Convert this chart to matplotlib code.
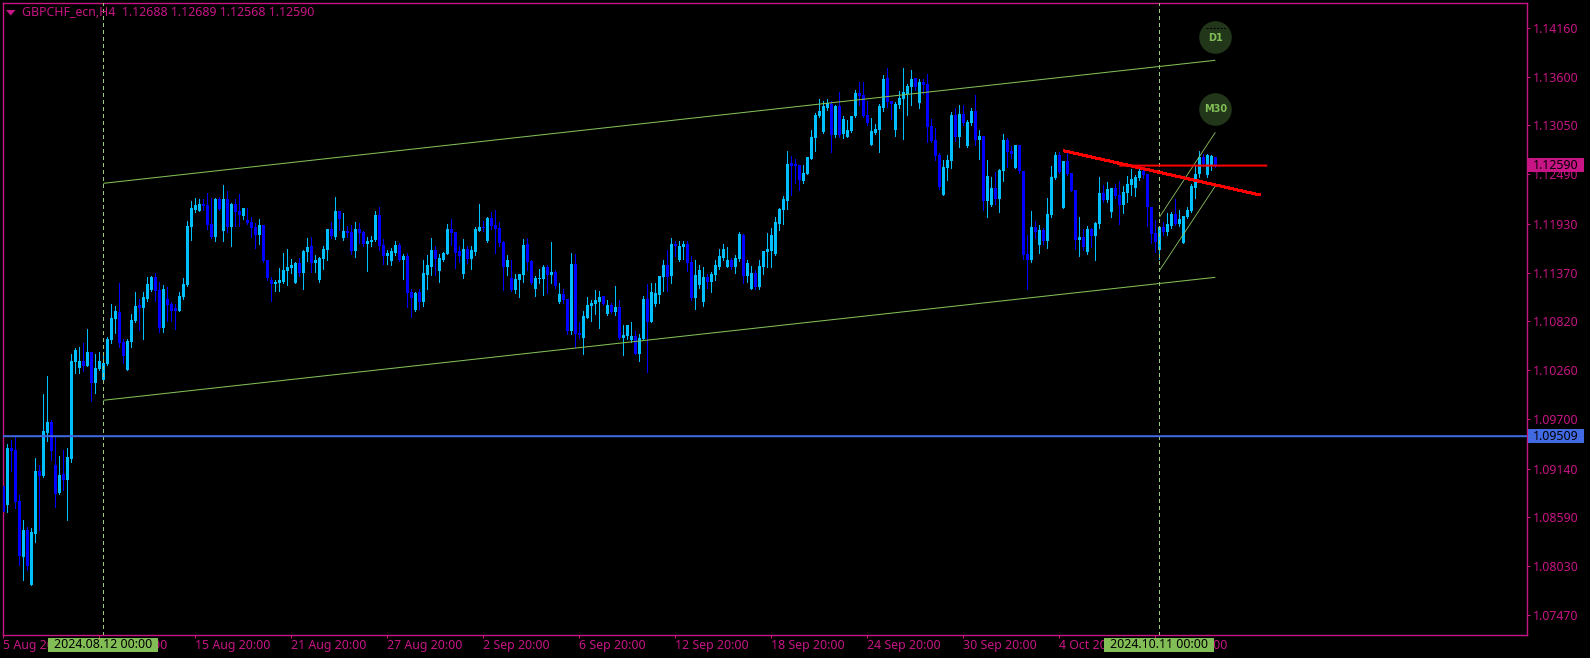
import numpy as np
import matplotlib
matplotlib.use("Agg")
import matplotlib.pyplot as plt
from matplotlib.patches import Rectangle, Polygon

# Prices are in units of 0.0001
body_top = [
10894,10937,10937,10935,10877,10844,10844,10841,10911,10911,
10956,10967,10967,10918,10906,10908,10927,11036,11049,11036,
11036,11047,11047,11028,11036,11034,11061,11085,11093,11092,
11058,11059,11083,11099,11100,11109,11124,11132,11132,11117,
11118,11107,11101,11096,11110,11124,11190,11210,11214,11215,
11215,11214,11192,11221,11221,11221,11221,11215,11215,11207,
11210,11197,11195,11189,11191,11191,11151,11129,11126,11129,
11140,11143,11145,11148,11148,11162,11166,11167,11151,11154,
11164,11186,11186,11207,11207,11184,11184,11183,11187,11187,
11183,11173,11174,11203,11203,11168,11159,11162,11168,11168,
11156,11156,11115,11114,11115,11136,11145,11163,11163,11153,
11159,11187,11187,11183,11161,11164,11164,11163,11187,11189,
11189,11199,11199,11191,11188,11172,11151,11131,11130,11135,
11168,11169,11150,11131,11131,11143,11143,11137,11137,11112,
11112,11107,11147,11147,11068,11087,11100,11102,11106,11109,
11110,11100,11100,11098,11098,11066,11077,11065,11065,11062,
11107,11107,11115,11114,11133,11145,11145,11169,11169,11167,
11169,11169,11149,11134,11140,11132,11132,11135,11145,11156,
11164,11151,11151,11154,11181,11180,11148,11136,11136,11144,
11162,11164,11180,11194,11209,11221,11260,11262,11260,11259,
11250,11268,11291,11316,11321,11327,11330,11329,11327,11327,
11312,11299,11315,11341,11341,11339,11316,11298,11300,11327,
11357,11358,11332,11329,11336,11343,11349,11357,11358,11354,
11354,11352,11304,11288,11271,11257,11265,11316,11316,11317,
11317,11308,11321,11321,11292,11292,11247,11233,11233,11254,
11288,11288,11275,11282,11282,11253,11158,11189,11189,11185,
11185,11204,11246,11271,11271,11264,11264,11250,11231,11177,
11177,11187,11187,11193,11228,11228,11232,11233,11233,11225,
11229,11238,11244,11246,11252,11252,11249,11212,11182,11189,
11189,11192,11204,11204,11198,11201,11208,11236,11249,11268,
11268,11271,11270,11269]
body_bottom = [
10865,10873,10934,10876,10814,10813,10803,10782,10840,10906,
10906,10954,10934,10885,10886,10901,10901,10925,11035,11028,
11031,11031,11012,11012,11027,11015,11033,11060,11084,11057,
11042,11026,11058,11082,11097,11097,11107,11117,11116,11074,
11074,11100,11094,11094,11094,11109,11123,11189,11208,11207,
11213,11191,11178,11178,11210,11184,11189,11189,11206,11203,
11202,11194,11188,11180,11180,11150,11131,11124,11124,11125,
11127,11139,11142,11125,11137,11137,11161,11148,11148,11129,
11153,11163,11179,11178,11198,11176,11182,11162,11162,11182,
11170,11170,11172,11174,11167,11156,11156,11150,11160,11152,
11152,11114,11108,11095,11104,11104,11135,11144,11153,11139,
11152,11158,11182,11160,11156,11136,11153,11153,11161,11185,
11188,11173,11190,11187,11171,11144,11144,11117,11117,11129,
11134,11149,11125,11119,11130,11130,11134,11134,11122,11104,
11106,11071,11071,11067,11066,11063,11086,11099,11101,11104,
11101,11090,11092,11092,11063,11063,11065,11060,11045,11045,
11061,11081,11081,11101,11112,11132,11132,11133,11168,11151,
11166,11148,11108,11108,11123,11104,11127,11127,11134,11144,
11154,11143,11144,11144,11153,11133,11133,11119,11121,11121,
11143,11161,11162,11158,11193,11209,11219,11259,11259,11243,
11242,11249,11267,11290,11315,11297,11325,11294,11294,11294,
11295,11292,11298,11315,11338,11315,11308,11282,11296,11299,
11325,11331,11329,11300,11328,11335,11341,11348,11349,11330,
11351,11303,11287,11270,11235,11226,11256,11264,11291,11291,
11307,11281,11307,11288,11288,11219,11219,11214,11221,11221,
11253,11274,11272,11256,11253,11157,11152,11152,11183,11169,
11173,11173,11203,11245,11252,11211,11249,11230,11174,11174,
11166,11161,11179,11179,11192,11220,11220,11206,11224,11214,
11214,11228,11237,11234,11245,11248,11212,11181,11172,11163,
11183,11183,11190,11193,11193,11171,11200,11207,11234,11249,
11261,11248,11258,11259]
highs = [
10905,10942,10947,10950,10884,10856,10848,10846,10926,10918,
10999,11020,10969,10950,10928,10935,10938,11044,11051,11052,
11057,11073,11047,11044,11047,11044,11064,11101,11099,11125,
11062,11062,11090,11115,11107,11115,11132,11133,11137,11127,
11123,11121,11104,11101,11115,11131,11196,11219,11222,11221,
11221,11228,11222,11222,11223,11237,11230,11216,11221,11227,
11210,11211,11200,11194,11198,11191,11151,11132,11129,11142,
11159,11164,11153,11149,11154,11163,11176,11178,11157,11155,
11168,11187,11195,11223,11207,11205,11190,11191,11195,11194,
11184,11178,11179,11207,11212,11175,11163,11165,11173,11171,
11158,11159,11119,11115,11119,11152,11157,11176,11168,11158,
11161,11193,11198,11183,11168,11175,11168,11167,11189,11215,
11196,11200,11206,11209,11195,11173,11157,11151,11136,11136,
11175,11177,11151,11133,11141,11146,11146,11172,11140,11125,
11118,11107,11159,11158,11081,11093,11109,11106,11117,11116,
11111,11106,11103,11122,11106,11077,11078,11081,11071,11067,
11111,11124,11125,11125,11133,11152,11163,11176,11173,11173,
11173,11173,11156,11151,11146,11144,11136,11138,11152,11164,
11170,11166,11154,11157,11183,11181,11152,11145,11140,11151,
11162,11182,11188,11201,11211,11224,11276,11270,11266,11260,
11260,11268,11299,11319,11335,11332,11335,11333,11328,11343,
11315,11311,11315,11345,11354,11354,11333,11313,11306,11329,
11362,11370,11332,11331,11344,11370,11352,11368,11358,11358,
11358,11363,11312,11302,11273,11265,11271,11320,11325,11328,
11328,11311,11325,11339,11300,11292,11265,11246,11252,11255,
11295,11290,11281,11282,11282,11253,11180,11207,11196,11191,
11188,11222,11258,11275,11275,11264,11274,11250,11231,11201,
11187,11190,11188,11195,11246,11237,11240,11234,11238,11241,
11236,11247,11255,11248,11258,11257,11249,11212,11197,11189,
11195,11205,11206,11221,11208,11201,11212,11238,11259,11276,
11272,11272,11271,11269]
lows = [
10845,10865,10911,10869,10804,10787,10798,10782,10831,10844,
10905,10945,10924,10870,10885,10890,10855,10921,11023,11023,
11025,11031,10991,11000,11026,11015,11032,11057,11068,11052,
11034,11026,11053,11081,11072,11061,11105,11116,11105,11069,
11070,11082,11082,11073,11093,11107,11122,11174,11206,11207,
11208,11187,11176,11173,11208,11173,11183,11167,11190,11190,
11198,11192,11178,11165,11170,11149,11129,11105,11116,11116,
11125,11123,11137,11125,11133,11118,11150,11138,11138,11127,
11141,11151,11176,11175,11186,11174,11178,11158,11155,11171,
11167,11139,11168,11173,11163,11147,11147,11146,11157,11150,
11130,11098,11087,11093,11096,11099,11119,11134,11135,11126,
11150,11158,11169,11142,11149,11131,11148,11141,11157,11184,
11184,11172,11187,11160,11168,11117,11134,11116,11114,11109,
11127,11140,11124,11110,11125,11112,11114,11125,11120,11102,
11102,11067,11067,11053,11063,11044,11085,11082,11090,11074,
11100,11089,11091,11089,11062,11043,11062,11058,11044,11037,
11060,11024,11081,11099,11102,11116,11116,11125,11156,11150,
11153,11139,11106,11096,11120,11099,11120,11115,11129,11141,
11152,11143,11141,11137,11150,11125,11127,11118,11118,11119,
11136,11143,11143,11157,11186,11193,11210,11225,11239,11231,
11239,11249,11267,11276,11314,11296,11322,11274,11291,11291,
11290,11292,11297,11314,11328,11314,11305,11282,11295,11275,
11321,11326,11312,11293,11325,11289,11317,11328,11345,11325,
11340,11286,11286,11265,11232,11226,11243,11256,11287,11280,
11305,11280,11305,11282,11266,11208,11200,11213,11215,11206,
11242,11257,11268,11256,11250,11153,11119,11149,11177,11159,
11170,11165,11200,11244,11250,11211,11248,11230,11164,11156,
11163,11158,11166,11151,11188,11218,11218,11200,11222,11193,
11205,11218,11226,11224,11243,11245,11190,11171,11161,11153,
11180,11180,11188,11191,11190,11171,11199,11206,11222,11246,
11258,11246,11254,11257]
# U = bullish candle, D = bearish candle
direction = (
"DUDDDUDUUD" "UUDDUDUUUU" "DUDUUUUUUD" "DUUUDUUUDD" "UDDDUUUUUU"
"DDDUDUDUDD" "UDDDUDDDUU" "UUUUDUUDUU" "UUDUDUDDUD" "DUUUDDUUUD"
"UDDUDUUUDU" "UUDDDUDUUU" "DUDDDDUDUU" "UDDUUUDUDU" "DDUDDUUUUU"
"DUDUDUUUDU" "UDUUUUDUDU" "UDDUUUDUUU" "UUDUUDUUDU" "UUUUUUUDDD"
"UUUUUUUDUD" "UUUUDDDUUU" "UDDUUUUUDU" "DDDDDUUUDU" "DUUDUDUUDU"
"UDDUDDDUDU" "DUUUDUDDDU" "DUDUUDUUDD" "UUUUUDDDDU" "DUUDUUUUUU"
"DUUD")

hline_price = 1.09509
last_price = 1.12590
price_ticks = [1.14160, 1.13600, 1.13050, 1.12490, 1.11930, 1.11370, 1.10820,
               1.10260, 1.09700, 1.09140, 1.08590, 1.08030, 1.07470]
time_ticks = [0, 24, 48, 72, 96, 120, 144, 168, 192, 216, 240, 264, 288]
time_labels = ["5 Aug 20:00", "9 Aug 20:00", "15 Aug 20:00", "21 Aug 20:00",
               "27 Aug 20:00", "2 Sep 20:00", "6 Sep 20:00", "12 Sep 20:00",
               "18 Sep 20:00", "24 Sep 20:00", "30 Sep 20:00", "4 Oct 20:00",
               "10 Oct 20:00"]
marker_bars = [25, 289]
marker_labels = ["2024.08.12 00:00", "2024.10.11 00:00"]
channel_upper = ([25, 303], [1.12388, 1.13789])
channel_lower = ([25, 303], [1.09918, 1.11318])
fast_upper = ([289, 303], [1.12001, 1.12969])
fast_lower = ([289, 303], [1.11393, 1.12358])
trend_red = ([265, 314.2], [1.12760, 1.12255])
flat_red = ([279, 316], [1.12590, 1.12590])
badges = [("D1", 303, 1.14050), ("M30", 303, 1.13240)]
badge_dash = ([300.6, 305.4], [1.14160, 1.14160])

W, H = 1590, 658
MAG = "#C71585"
GREEN = "#82BE55"
CYAN = "#00BFFF"
BLUE = "#0000FF"
plt.rcParams["font.family"] = ["Noto Sans", "DejaVu Sans"]
FS = 8.9

fig = plt.figure(figsize=(W / 100, H / 100), dpi=100, facecolor="black")
L, R, T, B = 2.5, 1526.5, 2.5, 634.5
ax = fig.add_axes([L / W, 1 - B / H, (R - L) / W, (B - T) / H], facecolor="black")
ax.set_xlim((L - 3.33) / 4, (R - 3.33) / 4)
ax.set_ylim(1.14160 - (B - 27.7) / 8783, 1.14160 + (27.7 - T) / 8783)

n = len(highs)
idx = np.arange(n)
top = np.array(body_top) / 1e4
bot = np.array(body_bottom) / 1e4
hi = np.array(highs) / 1e4
lo = np.array(lows) / 1e4
up = np.array([c == "U" for c in direction])
opens = np.where(up, bot, top)
closes = np.where(up, top, bot)
cols = np.where(up, CYAN, BLUE)

ax.vlines(idx, lo, hi, colors=cols, lw=0.72, antialiased=False, zorder=2)
ax.bar(idx, np.abs(closes - opens) + 0.00003, bottom=np.minimum(opens, closes),
       width=0.75, color=cols, linewidth=0, antialiased=False, zorder=3)

for b in marker_bars:
    ax.axvline(b, color="#9CC87C", lw=0.72, ls=(0, (3, 3)), antialiased=False, zorder=4)
for ln in (channel_upper, channel_lower):
    ax.plot(*ln, color=GREEN, lw=0.75, zorder=5, solid_capstyle="butt")
for ln in (fast_upper, fast_lower):
    ax.plot(*ln, color="#8FC463", lw=0.6, zorder=5, solid_capstyle="butt")
ax.axhline(hline_price, color="#4169E1", lw=1.44, snap=False, zorder=6)
ax.plot(*trend_red, color="#FF0000", lw=1.44, zorder=7, solid_capstyle="butt", antialiased=False)
ax.plot(*flat_red, color="#FF0000", lw=1.44, zorder=7, solid_capstyle="butt", snap=False)

for txt, bx, py in badges:
    ax.plot([bx], [py], "o", ms=23.5, mfc="#22361A", mec="none", zorder=8)
    ax.text(bx, py - 0.00004, txt, color=GREEN, fontsize=7.0, fontweight="bold",
            family="DejaVu Sans", ha="center", va="center", zorder=9)
ax.plot(*badge_dash, color="black", lw=0.72, ls=(0, (2, 1.5)), zorder=9)

for s in ax.spines.values():
    s.set_color(MAG)
    s.set_linewidth(1.0)
ax.yaxis.tick_right()
ax.set_yticks(price_ticks)
ax.set_yticklabels([f"{p:.5f}" for p in price_ticks])
ax.set_xticks(time_ticks)
ax.set_xticklabels(time_labels, ha="left")
ax.tick_params(axis="both", colors=MAG, length=2.4, width=0.75, labelsize=FS, pad=2.5)
ax.tick_params(axis="x", pad=1.0)
ax.margins(0)


def fx(x):
    return x / W


def fy(y):
    return 1 - y / H


def box(x0, y0, x1, y1, color):
    fig.add_artist(Rectangle((fx(x0), fy(y1)), (x1 - x0) / W, (y1 - y0) / H,
                             transform=fig.transFigure, facecolor=color,
                             edgecolor="none", zorder=5))


# Header
fig.add_artist(Polygon([[fx(6), fy(10)], [fx(15.5), fy(10)], [fx(10.7), fy(15.5)]],
                       closed=True, transform=fig.transFigure, facecolor=MAG,
                       edgecolor="none", zorder=6))
fig.text(fx(21.5), fy(12.7), "GBPCHF_ecn,H4  1.12688 1.12689 1.12568 1.12590",
         color=MAG, fontsize=FS, va="center", ha="left", zorder=6)

# Price tags
box(1528, 158, 1584, 172, MAG)
fig.text(fx(1533), fy(165.5), f"{last_price:.5f}", color="black", fontsize=FS,
         va="center", ha="left", zorder=6)
box(1528, 429, 1584, 443, "#4169E1")
fig.text(fx(1533), fy(436), f"{hline_price:.5f}", color="black", fontsize=FS,
         va="center", ha="left", zorder=6)

# Time tags
for cx, lab in zip((103.3, 1159.3), marker_labels):
    box(cx - 55, 638, cx + 55, 652, GREEN)
    fig.text(fx(cx), fy(645), lab, color="black", fontsize=FS, va="center",
             ha="center", zorder=6)

fig.savefig("out.png", dpi=100, facecolor="black")
